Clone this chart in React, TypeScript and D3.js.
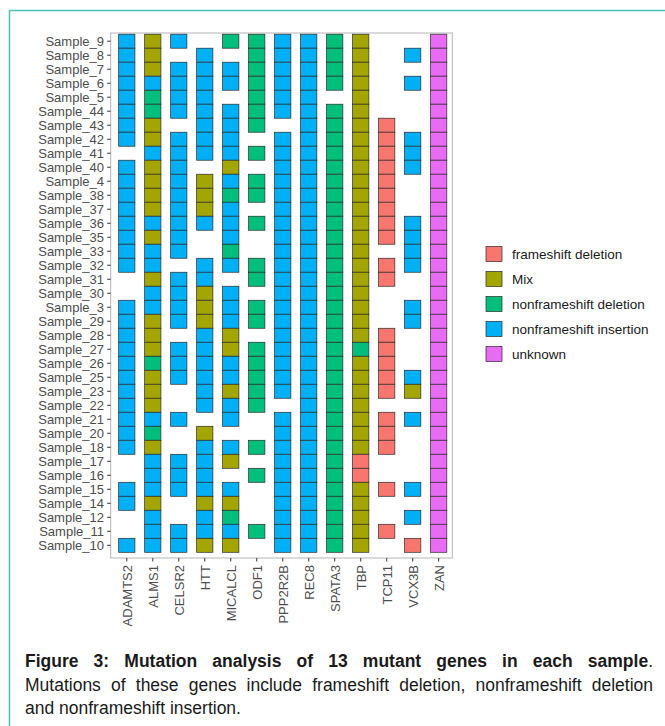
import React, { useLayoutEffect, useRef, useState } from "react";
import * as d3 from "d3";

// ---- data ----
const samples = [
  "Sample_9", "Sample_8", "Sample_7", "Sample_6", "Sample_5",
  "Sample_44", "Sample_43", "Sample_42", "Sample_41", "Sample_40",
  "Sample_4", "Sample_38", "Sample_37", "Sample_36", "Sample_35",
  "Sample_33", "Sample_32", "Sample_31", "Sample_30", "Sample_3",
  "Sample_29", "Sample_28", "Sample_27", "Sample_26", "Sample_25",
  "Sample_23", "Sample_22", "Sample_21", "Sample_20", "Sample_18",
  "Sample_17", "Sample_16", "Sample_15", "Sample_14", "Sample_12",
  "Sample_11", "Sample_10",
];

const genes = [
  "ADAMTS2", "ALMS1", "CELSR2", "HTT", "MICALCL", "ODF1", "PPP2R2B",
  "REC8", "SPATA3", "TBP", "TCP11", "VCX3B", "ZAN",
];

// Codes: R = frameshift deletion, M = Mix, G = nonframeshift deletion,
// B = nonframeshift insertion, P = unknown, . = no mutation
// groups of 5 samples, in the order of `samples`
const ADAMTS2 = ["BBBBB", "BBB.B", "BBBBB", "BB..B", "BBBBB", "BBBBB", "..BB.", ".B"];
const ALMS1 = ["MMMBG", "GMMBM", "MMMBM", "BBMBB", "MMMGM", "MMBGM", "BBBMB", "BB"];
const CELSR2 = ["B.BBB", "B.BBB", "BBBBB", "B.BBB", "B.BBB", "..B..", "BBB..", "BB"];
const HTT = [".BBBB", "BBBB.", "MMMB.", ".BBMM", "MBBBB", "BB.MB", "BBBMB", "BM"];
const MICALCL = ["G.BB.", "BBBBM", "BGBBB", "GB.BB", "BMMBB", "MBB.B", "M.BMG", "BM"];
const ODF1 = ["GGGGG", "GG.G.", "GG.G.", ".GG.G", "G.GGG", "GG..G", ".G...", "G."];
const PPP2R2B = ["BBBBB", "B.BBB", "BBBBB", "BBBBB", "BBBBB", "B.BBB", "BBBBB", "BB"];
const REC8 = ["BBBBB", "BBBBB", "BBBBB", "BBBBB", "BBBBB", "BBBBB", "BBBBB", "BB"];
const SPATA3 = ["GGGG.", "GGGGG", "GGGGG", "GGGGG", "GGGGG", "GGGGG", "GGGGG", "GG"];
const TBP = ["MMMMM", "MMMMM", "MMMMM", "MMMMM", "MMGMM", "MMMMM", "RRMMM", "MM"];
const TCP11 = [".....", ".RRRR", "RRRRR", ".RR..", ".RRRR", "R.RRR", "..R..", "R."];
const VCX3B = [".B.B.", "..BBB", "...BB", "BB..B", "B...B", "M.B..", "..B.B", ".R"];
const ZAN = ["PPPPP", "PPPPP", "PPPPP", "PPPPP", "PPPPP", "PPPPP", "PPPPP", "PP"];

const geneRows = [ADAMTS2, ALMS1, CELSR2, HTT, MICALCL, ODF1, PPP2R2B, REC8, SPATA3, TBP, TCP11, VCX3B, ZAN];

const mutationTypes = [
  "frameshift deletion",
  "Mix",
  "nonframeshift deletion",
  "nonframeshift insertion",
  "unknown",
];
const typeCodes = ["R", "M", "G", "B", "P"];
const typeColors = ["#F8766D", "#A3A500", "#00BF7D", "#00B0F6", "#E76BF3"];

const captionBold = "Figure 3: Mutation analysis of 13 mutant genes in each sample";
const captionLines = [
  "Mutations of these genes include frameshift deletion, nonframeshift deletion",
  "and nonframeshift insertion.",
];

// ---- layout ----
const W = 665;
const H = 726;
const panel = { x0: 110.7, x1: 452.3, y0: 33, y1: 558 };
const FONT = "'Liberation Sans', Arial, Helvetica, sans-serif";
const CAP_X = 25;
const CAP_W = 628;
const CAP_SIZE = 17.5;

export default function App() {
  const x = d3.scalePoint<string>().domain(genes).range([126.8, 438.7]);
  const y = d3.scalePoint<string>().domain(samples).range([41.2, 545.3]);
  const color = d3.scaleOrdinal<string, string>().domain(typeCodes).range(typeColors);
  const step = y.step();
  const tileW = x.step() * 0.625;

  const l1 = useRef<SVGTextElement>(null);
  const l2 = useRef<SVGTextElement>(null);
  const [ws, setWs] = useState<[number, number]>([0, 0]);
  const [sx, setSx] = useState<[number, number]>([1, 1]);

  useLayoutEffect(() => {
    const calc = (el: SVGTextElement | null): [number, number] => {
      if (!el) return [0, 1];
      const len = el.getComputedTextLength();
      const spaces = (el.textContent || "").split(" ").length - 1;
      if (len > CAP_W) return [0, CAP_W / len];
      return [spaces > 0 ? (CAP_W - len) / spaces : 0, 1];
    };
    const a = calc(l1.current);
    const b = calc(l2.current);
    setWs([a[0], b[0]]);
    setSx([a[1], b[1]]);
  }, []);

  const cells: { gene: string; sample: string; code: string }[] = [];
  genes.forEach((g, gi) => {
    const codes = geneRows[gi].join("").split("");
    codes.forEach((c, si) => {
      if (c !== ".") cells.push({ gene: g, sample: samples[si], code: c });
    });
  });

  const legendY = d3.scalePoint<string>().domain(mutationTypes).range([254, 354]);

  return (
    <svg
      width={W}
      height={H}
      style={{ position: "absolute", left: 0, top: 0, background: "#fff" }}
      fontFamily={FONT}
    >
      <rect x={0} y={0} width={W} height={H} fill="#fff" />
      {/* frame */}
      <line x1={9.5} y1={10.5} x2={W} y2={10.5} stroke="#45c3b1" strokeWidth={1.5} />
      <line x1={9.5} y1={10.5} x2={9.5} y2={H} stroke="#45c3b1" strokeWidth={1.5} />

      {/* panel border */}
      <rect
        x={panel.x0}
        y={panel.y0}
        width={panel.x1 - panel.x0}
        height={panel.y1 - panel.y0}
        fill="none"
        stroke="#b5b5b5"
        strokeWidth={1}
      />

      {/* tiles */}
      <g>
        {cells.map((c, i) => (
          <rect
            key={i}
            x={(x(c.gene) as number) - tileW / 2}
            y={(y(c.sample) as number) - step / 2}
            width={tileW}
            height={step}
            fill={color(c.code)}
            stroke="#2a2a2a"
            strokeWidth={0.7}
          />
        ))}
      </g>

      {/* y axis */}
      <g>
        {samples.map((s) => (
          <g key={s}>
            <line
              x1={107.2}
              x2={panel.x0}
              y1={y(s) as number}
              y2={y(s) as number}
              stroke="#333"
              strokeWidth={1}
            />
            <text
              x={104}
              y={y(s) as number}
              dy="0.36em"
              textAnchor="end"
              fontSize={13}
              fill="#4d4d4d"
            >
              {s}
            </text>
          </g>
        ))}
      </g>

      {/* x axis */}
      <g>
        {genes.map((g) => (
          <g key={g}>
            <line
              x1={x(g) as number}
              x2={x(g) as number}
              y1={panel.y1}
              y2={panel.y1 + 3.5}
              stroke="#333"
              strokeWidth={1}
            />
            <text
              transform={`translate(${(x(g) as number) + 1},${panel.y1 + 7}) rotate(-90)`}
              dy="0.36em"
              textAnchor="end"
              fontSize={13}
              fill="#4d4d4d"
            >
              {g}
            </text>
          </g>
        ))}
      </g>

      {/* legend */}
      <g>
        {mutationTypes.map((t, i) => (
          <g key={t}>
            <rect
              x={486}
              y={(legendY(t) as number) - 7.5}
              width={16}
              height={15}
              fill={typeColors[i]}
              stroke="#2a2a2a"
              strokeWidth={0.7}
            />
            <text
              x={512}
              y={legendY(t) as number}
              dy="0.36em"
              fontSize={13.5}
              fill="#1a1a1a"
            >
              {t}
            </text>
          </g>
        ))}
      </g>

      {/* caption */}
      <g transform={`translate(${CAP_X},667) scale(${sx[0]},1)`}>
        <text
          ref={l1}
          x={0}
          y={0}
          fontSize={CAP_SIZE}
          fontWeight="bold"
          fill="#1a1a1a"
          style={{ wordSpacing: `${ws[0]}px` }}
        >
          {captionBold}
          <tspan fontWeight="normal">.</tspan>
        </text>
      </g>
      <g transform={`translate(${CAP_X},690.5) scale(${sx[1]},1)`}>
        <text
          ref={l2}
          x={0}
          y={0}
          fontSize={CAP_SIZE}
          fill="#1a1a1a"
          style={{ wordSpacing: `${ws[1]}px` }}
        >
          {captionLines[0]}
        </text>
      </g>
      <g transform={`translate(${CAP_X},713.5) scale(${sx[1]},1)`}>
        <text x={0} y={0} fontSize={CAP_SIZE} fill="#1a1a1a">
          {captionLines[1]}
        </text>
      </g>
    </svg>
  );
}
